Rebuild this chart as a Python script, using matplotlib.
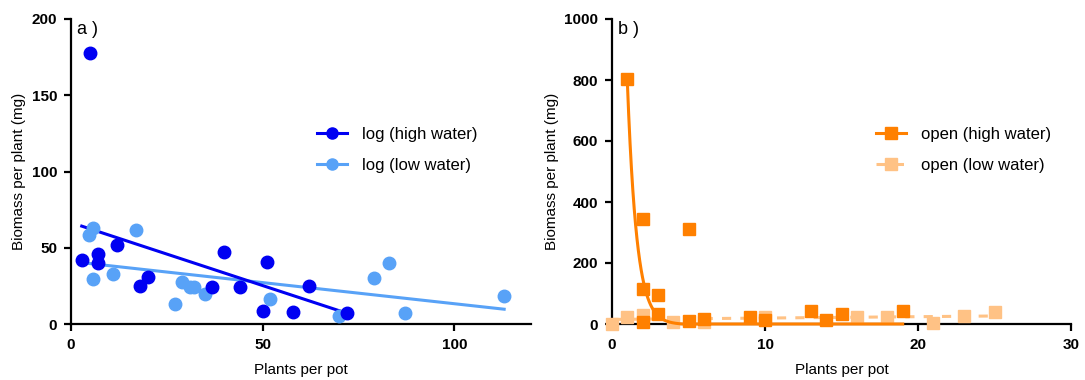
import numpy as np
import matplotlib
matplotlib.use("Agg")
import matplotlib.pyplot as plt

plt.rcParams['font.family'] = ['Liberation Sans', 'DejaVu Sans']

# ---- Panel a data ----
log_high_x = [2.8, 5, 7, 7, 12, 17.9, 20, 36.9, 39.9, 44, 51, 50, 58, 62, 72]
log_high_y = [42, 178, 46, 40, 52, 25, 30.6, 24, 47.4, 24.5, 40.4, 8.5, 7.9, 25, 7.4]
log_low_x = [5.8, 4.8, 5.8, 10.9, 17, 27, 29, 31, 32, 35, 52, 70, 79, 83, 87, 113]
log_low_y = [62.7, 58.4, 29.3, 32.6, 61.6, 13.1, 27.3, 24.3, 24.3, 20, 16.6, 5.5, 30.2, 39.8, 7, 18.1]
# linear fits (slope, intercept)
log_high_fit = [-0.826, 66.5]
log_low_fit = [-0.277, 41.0]

# ---- Panel b data ----
open_high_x = [1, 2, 2, 2, 3, 3, 5, 5, 6, 9, 10, 13, 14, 15, 19]
open_high_y = [803, 343, 114, 8, 96, 33, 311, 11, 15, 22, 13, 44, 13, 32, 44]
open_low_x = [0, 1, 2, 4, 6, 10, 16, 18, 21, 23, 25]
open_low_y = [0, 22, 30, 5, 8, 22, 22, 24, 4, 26, 39]
# decay fit for high water: A * exp(-k*(x - x0)) + plateau
open_high_fit = [800.0, 1.65, 1.0, -2.0]
# near-flat fit for low water: slope, intercept
open_low_fit = [0.45, 15.0]

DARK_BLUE = '#0000F2'
LIGHT_BLUE = '#58A2F7'
DARK_OR = '#FF8000'
LIGHT_OR = '#FFC285'

fig = plt.figure(figsize=(10.85, 3.8), dpi=100)
axa = fig.add_axes([71/1085, 56/380, 460/1085, 305/380])
axb = fig.add_axes([612/1085, 56/380, 459/1085, 305/380])

def style(ax):
    for s in ['top', 'right']:
        ax.spines[s].set_visible(False)
    for s in ['left', 'bottom']:
        ax.spines[s].set_linewidth(1.6)
    ax.tick_params(direction='out', length=5, width=1.6, labelsize=11, pad=5)
    for lab in ax.get_xticklabels() + ax.get_yticklabels():
        lab.set_fontweight('bold')

# Panel a
xa = np.array([min(log_high_x), max(log_high_x)])
xl = np.array([min(log_low_x), max(log_low_x)])
axa.plot(xl, log_low_fit[0]*xl + log_low_fit[1], color=LIGHT_BLUE, lw=2.2, zorder=2, clip_on=False)
axa.plot(xa, log_high_fit[0]*xa + log_high_fit[1], color=DARK_BLUE, lw=2.2, zorder=3, clip_on=False)
axa.plot(log_low_x, log_low_y, 'o', color=LIGHT_BLUE, ms=9, zorder=4, clip_on=False)
axa.plot(log_high_x, log_high_y, 'o', color=DARK_BLUE, ms=9, zorder=5, clip_on=False)
axa.plot([], [], 'o-', color=DARK_BLUE, ms=8, lw=2.2, label='log (high water)')
axa.plot([], [], 'o-', color=LIGHT_BLUE, ms=8, lw=2.2, label='log (low water)')
axa.set_xlim(0, 120)
axa.set_ylim(0, 200)
axa.set_xticks([0, 50, 100])
axa.set_yticks([0, 50, 100, 150, 200])
axa.set_xlabel('Plants per pot', fontsize=11, labelpad=8)
axa.set_ylabel('Biomass per plant (mg)', fontsize=11, labelpad=4)
axa.text(0.012, 0.995, 'a )', transform=axa.transAxes, fontsize=13, va='top', ha='left')
axa.legend(loc='upper left', bbox_to_anchor=(0.52, 0.668), frameon=False, fontsize=12,
           handlelength=1.8, handletextpad=0.9, labelspacing=0.95, borderaxespad=0)
style(axa)

# Panel b
xh = np.linspace(min(open_high_x), max(open_high_x), 400)
A, k, x0, p = open_high_fit
xlw = np.array([min(open_low_x), max(open_low_x)])
axb.plot(xlw, open_low_fit[0]*xlw + open_low_fit[1], '--', color=LIGHT_OR, lw=2.2,
         dashes=(3, 3), zorder=2, clip_on=False)
axb.plot(open_low_x, open_low_y, 's', color=LIGHT_OR, ms=8.5, zorder=3, clip_on=False)
axb.plot(xh, np.maximum(A*np.exp(-k*(xh - x0)) + p, 0), color=DARK_OR, lw=2.2, zorder=4, clip_on=False)
axb.plot(open_high_x, open_high_y, 's', color=DARK_OR, ms=8.5, zorder=5, clip_on=False)
axb.plot([], [], 's-', color=DARK_OR, ms=8, lw=2.2, label='open (high water)')
axb.plot([], [], 's--', color=LIGHT_OR, ms=8, lw=2.2, dashes=(3, 3), label='open (low water)')
axb.set_xlim(0, 30)
axb.set_ylim(0, 1000)
axb.set_xticks([0, 10, 20, 30])
axb.set_yticks([0, 200, 400, 600, 800, 1000])
axb.set_xlabel('Plants per pot', fontsize=11, labelpad=8)
axb.set_ylabel('Biomass per plant (mg)', fontsize=11, labelpad=4)
axb.text(0.012, 0.995, 'b )', transform=axb.transAxes, fontsize=13, va='top', ha='left')
axb.legend(loc='upper left', bbox_to_anchor=(0.56, 0.668), frameon=False, fontsize=12,
           handlelength=1.8, handletextpad=0.9, labelspacing=0.95, borderaxespad=0)
style(axb)

fig.savefig('out.png', dpi=100)
